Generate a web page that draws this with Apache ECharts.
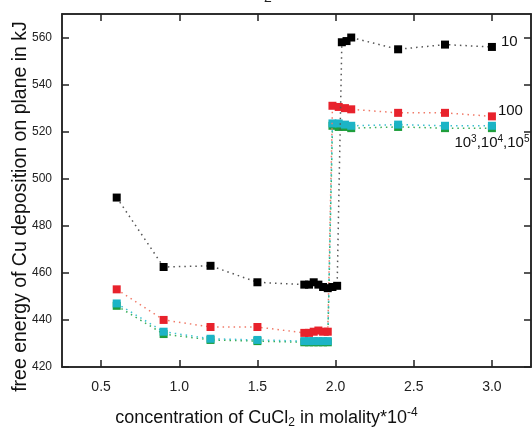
<!DOCTYPE html>
<html>
<head>
<meta charset="utf-8">
<script src="https://cdn.jsdelivr.net/npm/echarts@6/dist/echarts.min.js"></script>
<style>
  html, body { margin: 0; padding: 0; background: #fff; }
  #chart { width: 532px; height: 428px; }
</style>
</head>
<body>
<div id="chart"></div>
<script>
// Concentration of CuCl2 (molality * 10^-4)
const concBlack = [0.6, 0.9, 1.2, 1.5, 1.8, 1.83, 1.86, 1.89, 1.92, 1.95, 1.98, 2.01, 2.04, 2.07, 2.1, 2.4, 2.7, 3.0];
const concColor = [0.6, 0.9, 1.2, 1.5, 1.8, 1.83, 1.86, 1.89, 1.92, 1.95, 1.98, 2.02, 2.06, 2.1, 2.4, 2.7, 3.0];

// Free energy of Cu deposition (kJ) for each parameter value
const energy10   = [492, 462.5, 463, 456, 455, 455, 456, 455, 454, 453.5, 454, 454.5, 558, 558.5, 560, 555, 557, 556];
const energy100  = [453, 440, 437, 437, 434.5, 434.5, 435, 435.5, 435, 435, 531, 530.5, 530, 529.5, 528, 528, 526.5];
const energy1e3  = [447, 435, 432, 431.5, 431, 431, 431, 431, 431, 431, 523.5, 523.5, 523, 522.5, 523, 522.5, 522.5];
const energy1e4  = [446, 434, 431.5, 431, 430.5, 430.5, 430.5, 430.5, 430.5, 430.5, 522.5, 522, 522, 521.5, 522, 521.5, 521.5];

// Axis ticks
const xTicks = [0.5, 1.0, 1.5, 2.0, 2.5, 3.0];
const yTicks = [420, 440, 460, 480, 500, 520, 540, 560];

const FONT = '"Liberation Sans", Arial, Helvetica, sans-serif';

function pairs(xs, ys) { return xs.map((x, i) => [x, ys[i]]); }

function withEndLabel(xs, ys, label) {
  const d = pairs(xs, ys).map(p => ({ value: p }));
  d[d.length - 1].label = Object.assign({ show: true }, label);
  return d;
}

const sup = { fontSize: 10, fontFamily: FONT, color: '#111', verticalAlign: 'top', lineHeight: 10 };
const base = { fontSize: 15, fontFamily: FONT, color: '#111', lineHeight: 18 };

function lineSeries(name, data, markerColor, lineColor, z) {
  return {
    name: name,
    type: 'line',
    data: data,
    symbol: 'rect',
    symbolSize: 8,
    z: z,
    itemStyle: { color: markerColor },
    lineStyle: { color: lineColor, width: 1.5, type: [1.5, 4] },
    emphasis: { disabled: true },
    animation: false
  };
}

const chart = echarts.init(document.getElementById('chart'), null, { renderer: 'canvas' });

const commonTick = { show: true, inside: true, length: 7, lineStyle: { color: '#222', width: 1.5 } };

chart.setOption({
  backgroundColor: '#fff',
  animation: false,
  grid: {
    left: 62, right: 1, top: 14, bottom: 61,
    outerBoundsMode: 'none', containLabel: false,
    show: true, borderColor: '#222', borderWidth: 1.5
  },
  graphic: [{
    type: 'text', left: 264, top: -9,
    style: { text: '2', font: '14px ' + FONT, fill: '#222' }
  }],
  xAxis: [{
    type: 'value', min: 0.25, max: 3.25,
    name: '{b|concentration of CuCl}{sub|2}{b| in molality*10}{sp|-4}',
    nameLocation: 'middle', nameGap: 40, nameMoveOverlap: false,
    nameTextStyle: {
      padding: [0, 60, 0, 0],
      rich: {
        b: { fontSize: 18, fontFamily: FONT, color: '#111', lineHeight: 22 },
        sub: { fontSize: 12, fontFamily: FONT, color: '#111', verticalAlign: 'bottom', lineHeight: 12 },
        sp: { fontSize: 12, fontFamily: FONT, color: '#111', verticalAlign: 'top', lineHeight: 12 }
      }
    },
    axisLine: { show: true, lineStyle: { color: '#222', width: 1.5 } },
    axisTick: Object.assign({ customValues: xTicks }, commonTick),
    axisLabel: { customValues: xTicks, formatter: v => v.toFixed(1), fontSize: 14, fontFamily: FONT, color: '#222', margin: 13 },
    splitLine: { show: false }
  }, {
    type: 'value', min: 0.25, max: 3.25, position: 'top',
    axisLine: { show: true, lineStyle: { color: '#222', width: 1.5 } },
    axisTick: Object.assign({ customValues: xTicks }, commonTick),
    axisLabel: { show: false },
    splitLine: { show: false }
  }],
  yAxis: [{
    type: 'value', min: 420, max: 570,
    name: 'free energy of Cu deposition on plane in kJ',
    nameLocation: 'middle', nameGap: 31, nameMoveOverlap: false,
    nameTextStyle: { fontSize: 19.5, lineHeight: 20, fontFamily: FONT, color: '#111', padding: [0, 32, 0, 0] },
    axisLine: { show: true, lineStyle: { color: '#222', width: 1.5 } },
    axisTick: Object.assign({ customValues: yTicks }, commonTick),
    axisLabel: { customValues: yTicks, fontSize: 12, fontFamily: FONT, color: '#222', margin: 10 },
    splitLine: { show: false }
  }, {
    type: 'value', min: 420, max: 570, position: 'right',
    axisLine: { show: true, lineStyle: { color: '#222', width: 1.5 } },
    axisTick: Object.assign({ customValues: yTicks }, commonTick),
    axisLabel: { show: false },
    splitLine: { show: false }
  }],
  series: [
    lineSeries('10^4', pairs(concColor, energy1e4), '#1f9e3c', '#3aae58', 2),
    lineSeries('10^3', withEndLabel(concColor, energy1e3, {
      position: 'bottom', distance: 4,
      formatter: '{b|10}{s|3}{b|,10}{s|4}{b|,10}{s|5}',
      rich: { b: base, s: sup }
    }), '#1cb4c6', '#3cc0d0', 3),
    lineSeries('100', withEndLabel(concColor, energy100, {
      position: 'right', distance: 2, offset: [0, -6],
      formatter: '100', fontSize: 15, fontFamily: FONT, color: '#111'
    }), '#e8222c', '#f07a68', 4),
    lineSeries('10', withEndLabel(concBlack, energy10, {
      position: 'right', distance: 5, offset: [0, -5],
      formatter: '10', fontSize: 15, fontFamily: FONT, color: '#111'
    }), '#000000', '#555555', 5)
  ]
});
</script>
</body>
</html>
